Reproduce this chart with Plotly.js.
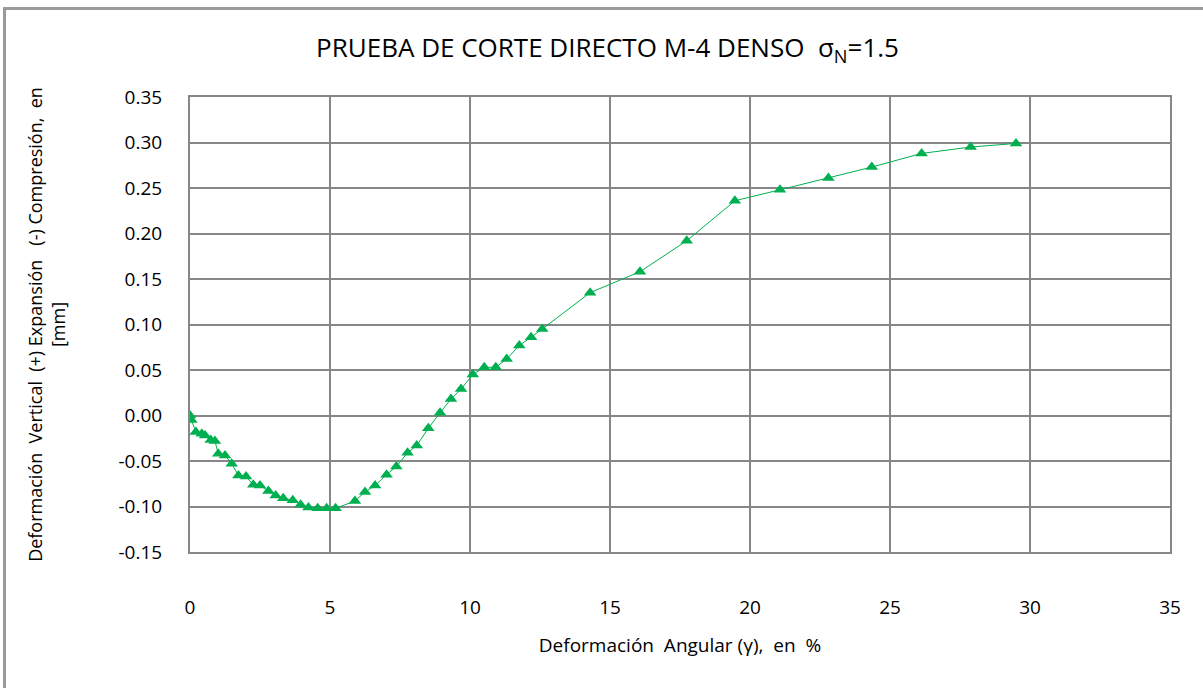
<!DOCTYPE html>
<html>
<head>
<meta charset="utf-8">
<script src="https://cdn.plot.ly/plotly-3.0.1.min.js"></script>
<style>
html,body{margin:0;padding:0;background:#fff;}
#frame{position:absolute;left:3px;top:7px;width:1200px;height:681px;border-left:3px solid #9a9a9a;border-top:3px solid #9a9a9a;box-sizing:border-box;}
#chart{position:absolute;left:0;top:0;width:1203px;height:688px;}
</style>
</head>
<body>
<div id="frame"></div>
<div id="chart"></div>
<script>
const deformacionAngular = [0, 0.05, 0.21, 0.42, 0.54, 0.74, 0.89, 1.01, 1.25, 1.49, 1.73, 2.0, 2.26, 2.5, 2.8, 3.06, 3.33, 3.67, 3.95, 4.23, 4.56, 4.88, 5.2, 5.89, 6.25, 6.61, 7.02, 7.37, 7.77, 8.1, 8.51, 8.93, 9.32, 9.68, 10.1, 10.51, 10.92, 11.31, 11.76, 12.18, 12.58, 14.29, 16.07, 17.74, 19.46, 21.07, 22.8, 24.35, 26.13, 27.88, 29.5];
const deformacionVertical = [0.0, -0.005, -0.018, -0.020, -0.022, -0.027, -0.028, -0.042, -0.044, -0.053, -0.066, -0.067, -0.076, -0.077, -0.083, -0.088, -0.091, -0.093, -0.098, -0.101, -0.102, -0.102, -0.102, -0.094, -0.084, -0.077, -0.065, -0.056, -0.041, -0.033, -0.014, 0.003, 0.018, 0.029, 0.045, 0.053, 0.053, 0.062, 0.077, 0.086, 0.095, 0.135, 0.158, 0.192, 0.236, 0.248, 0.261, 0.273, 0.288, 0.295, 0.299];
const xTicks = [0, 5, 10, 15, 20, 25, 30, 35];
const yTicks = [-0.15, -0.10, -0.05, 0.00, 0.05, 0.10, 0.15, 0.20, 0.25, 0.30, 0.35];

const font = "Open Sans, Lato, DejaVu Sans, sans-serif";
const trace = {
  x: deformacionAngular,
  y: deformacionVertical,
  type: 'scatter',
  mode: 'lines+markers',
  line: {color: '#00B050', width: 1},
  marker: {symbol: 'triangle-up', size: 11, color: '#00B050'},
  showlegend: false,
  hoverinfo: 'x+y'
};
const layout = {
  width: 1203, height: 688,
  paper_bgcolor: 'rgba(0,0,0,0)', plot_bgcolor: '#fff',
  margin: {l: 190, r: 33, t: 97, b: 136},
  title: {text: 'PRUEBA DE CORTE DIRECTO M-4 DENSO  σ<sub>N</sub>=1.5', x: 0.505, xanchor: 'center', y: 0.93, yanchor: 'middle', font: {family: font, size: 26, color: '#000'}},
  xaxis: {
    range: [0, 35], tickvals: xTicks, ticktext: xTicks.map(String),
    showgrid: true, gridcolor: '#878787', gridwidth: 2,
    showline: true, linecolor: '#878787', linewidth: 2, mirror: true,
    zeroline: false, ticks: '', ticklabelstandoff: 37,
    tickfont: {family: font, size: 19, color: '#000'},
    title: {text: 'Deformación  Angular (γ),  en  %', font: {family: font, size: 19, color: '#000'}, standoff: 20}
  },
  yaxis: {
    range: [-0.15, 0.35], tickvals: yTicks, ticktext: yTicks.map(v => v.toFixed(2)),
    showgrid: true, gridcolor: '#878787', gridwidth: 2,
    showline: true, linecolor: '#878787', linewidth: 2, mirror: true,
    zeroline: false, ticks: '', ticklabelstandoff: 22,
    tickfont: {family: font, size: 19, color: '#000'},
    title: {text: 'Deformación  Vertical  (+) Expansión   (-) Compresión,  en<br>[mm]', font: {family: font, size: 18, color: '#000'}, standoff: 48}
  }
};
Plotly.newPlot('chart', [trace], layout, {displayModeBar: false, staticPlot: true});
</script>
</body>
</html>
